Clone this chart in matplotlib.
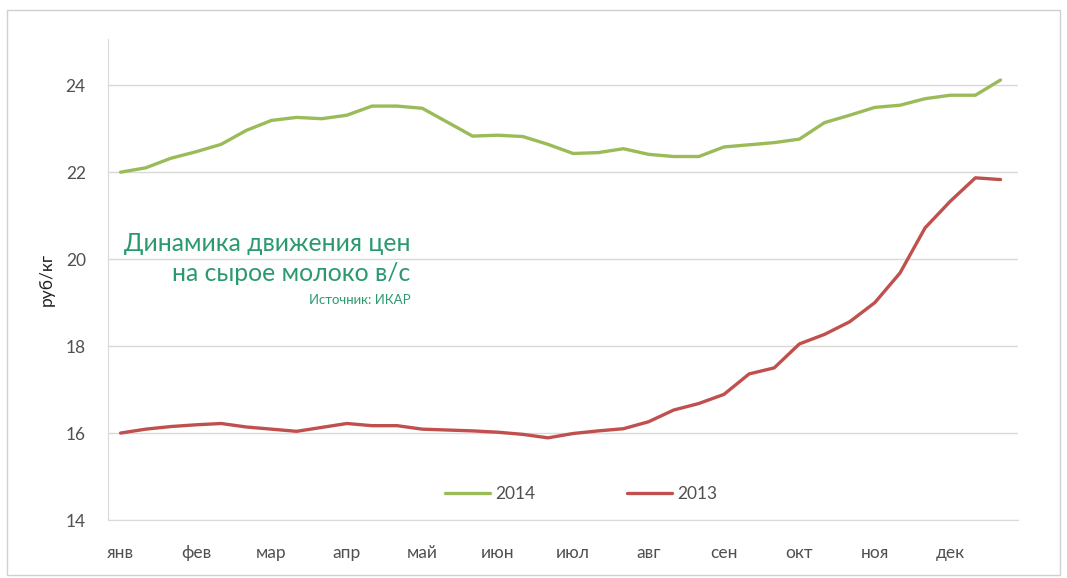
import numpy as np
import matplotlib.pyplot as plt
from matplotlib.patches import Rectangle

# 36 points per year, three per month
months = ['янв', 'фев', 'мар', 'апр', 'май', 'июн', 'июл', 'авг', 'сен', 'окт', 'ноя', 'дек']

prices_2014 = [22.0, 22.1, 22.32, 22.47, 22.64, 22.96, 23.19, 23.26, 23.23, 23.31, 23.52, 23.52,
               23.47, 23.15, 22.83, 22.85, 22.82, 22.64, 22.43, 22.45, 22.54, 22.41, 22.36, 22.36,
               22.58, 22.63, 22.68, 22.76, 23.14, 23.31, 23.49, 23.54, 23.69, 23.77, 23.77, 24.12]

prices_2013 = [16.0, 16.09, 16.15, 16.19, 16.22, 16.14, 16.09, 16.04, 16.13, 16.22, 16.17, 16.17,
               16.09, 16.07, 16.05, 16.02, 15.97, 15.89, 15.99, 16.05, 16.1, 16.26, 16.53, 16.68,
               16.89, 17.36, 17.5, 18.05, 18.27, 18.56, 19.0, 19.68, 20.72, 21.33, 21.87, 21.83]

plt.rcParams['font.family'] = ['Lato', 'DejaVu Sans']

fig = plt.figure(figsize=(10.67, 5.78), dpi=100)
ax = fig.add_axes([0.1012, 0.1003, 0.853, 0.832])

x = np.arange(len(prices_2014))
ax.plot(x, prices_2014, color='#9bbb59', lw=2.4, label='2014', solid_capstyle='round')
ax.plot(x, prices_2013, color='#c0504d', lw=2.4, label='2013', solid_capstyle='round')

ax.set_xlim(-0.5, 35.7)
ax.set_ylim(14, 25.06)
ax.set_yticks([14, 16, 18, 20, 22, 24])
ax.set_xticks(np.arange(0, 36, 3))
ax.set_xticklabels(months)
ax.tick_params(axis='both', length=0, labelsize=12.5, colors='#505050')
ax.tick_params(axis='x', pad=18)
ax.tick_params(axis='y', pad=16)

ax.grid(axis='y', color='#d9d9d9', lw=1)
ax.set_axisbelow(True)
for s in ['top', 'right']:
    ax.spines[s].set_visible(False)
ax.spines['left'].set_color('#d9d9d9')
ax.spines['bottom'].set_color('#d9d9d9')

ax.set_ylabel('руб/кг', fontsize=12.5, color='#222222', labelpad=8)

# annotation block
tcol = '#2a9a6e'
ax.text(11.52, 20.35, 'Динамика движения цен', ha='right', va='center', fontsize=17.8, color=tcol)
ax.text(11.52, 19.66, 'на сырое молоко в/с', ha='right', va='center', fontsize=17.8, color=tcol)
ax.text(11.52, 19.05, 'Источник: ИКАР', ha='right', va='center', fontsize=9.5, color=tcol)

ax.legend(loc='center', bbox_to_anchor=(0.52, 0.054), ncol=2, frameon=False,
          fontsize=12.5, handlelength=2.6, handletextpad=0.3, columnspacing=5.3,
          labelcolor='#505050')

fig.patches.append(Rectangle((7 / 1067, 3 / 578), 1053 / 1067, 565 / 578,
                             transform=fig.transFigure, fill=False, edgecolor='#d0d0d0', lw=1))

fig.savefig('out.png', dpi=100)
